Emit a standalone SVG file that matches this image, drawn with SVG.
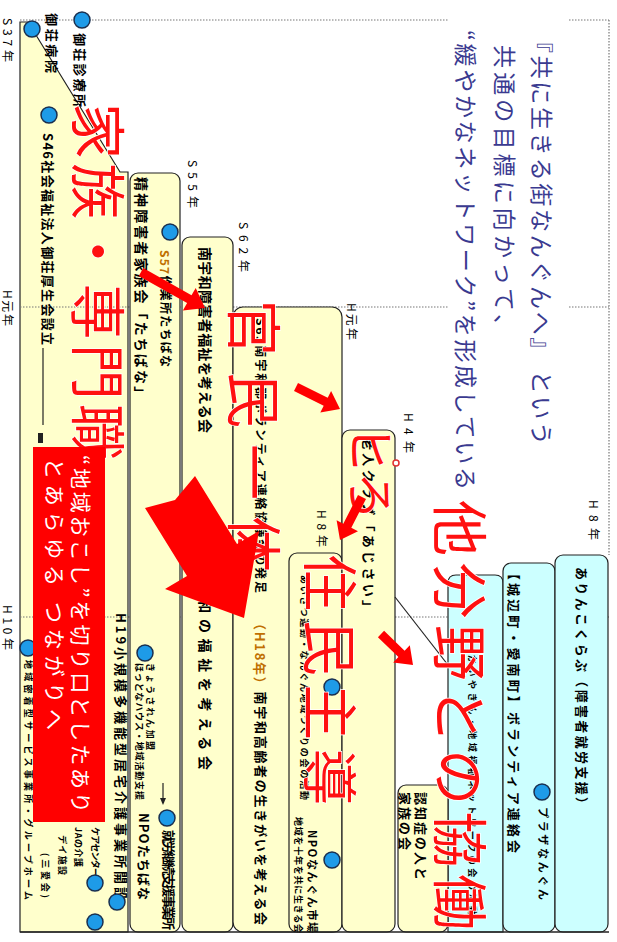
<svg xmlns="http://www.w3.org/2000/svg" width="617" height="942" viewBox="0 0 617 942">
<defs>
<style>
text{font-family:"Noto Sans CJK JP","Noto Sans CJK SC",sans-serif;dominant-baseline:central}
.box{fill:#ffffcc;stroke:#222;stroke-width:1.2}
.cbox{fill:#ccffff;stroke:#222;stroke-width:1.2}
.dot{stroke:#777;stroke-width:1.2;stroke-dasharray:1.5 1.5;fill:none}
.yr{font-size:12px;fill:#000}
.t{font-size:13px;font-weight:bold;fill:#000}
.s{font-size:9px;font-weight:bold;fill:#000}
.big{font-size:56px;fill:#ff1010;stroke:#fff;stroke-width:1.5;paint-order:stroke}
.ttl{font-size:23px;fill:#3a3a90}
.wt{font-size:21px;fill:#fff}
.c{fill:#1e9be8;stroke:#1a3050;stroke-width:1.5}
.ra{fill:#ff0000}
.ln{stroke:#222;stroke-width:1.2;fill:none}
</style>
</defs>
<rect width="617" height="942" fill="#fff"/>
<g id="grid">
<line class="dot" x1="128" y1="20" x2="609" y2="20"/>
<line class="dot" x1="128" y1="307" x2="609" y2="307"/>
<line class="dot" x1="128" y1="617" x2="609" y2="617"/>
<line class="dot" x1="609" y1="20" x2="609" y2="555"/>
<text class="yr" transform="translate(8,18) rotate(90)" textLength="44">S37年</text>
<text class="yr" transform="translate(8,290) rotate(90)" textLength="36">H元年</text>
<text class="yr" transform="translate(8,605) rotate(90)" textLength="45">H10年</text>
</g>
<g id="colA">
<path class="box" d="M20,932 V22 H28 L120,172 H128 V932 Z"/>
<line class="dot" x1="20" y1="20" x2="128" y2="20"/>
<line class="dot" x1="20" y1="307" x2="128" y2="307"/>
<line class="dot" x1="20" y1="617" x2="128" y2="617"/>
<text class="t" transform="translate(52,13) rotate(90)" textLength="60">御荘病院</text>
<text class="t" transform="translate(80,33) rotate(90)" textLength="74">御荘診療所</text>
<text class="t" transform="translate(48,133) rotate(90)" textLength="212">S46社会福祉法人御荘厚生会設立</text>
<line class="ln" x1="43" y1="348" x2="43" y2="425"/>
<rect x="38" y="433" width="5" height="10" fill="#222"/>
<text class="t" transform="translate(121,613) rotate(90)" textLength="287">H19小規模多機能型居宅介護事業所開設</text>
<text class="s" transform="translate(28,660) rotate(90)" textLength="240">地域密着型サービス事業所・グループホーム</text>
<text class="s" transform="translate(95,827) rotate(90)" textLength="50">ケアセンター</text>
<text class="s" transform="translate(78,827) rotate(90)" textLength="40">JAの介護</text>
<text class="s" transform="translate(62,835) rotate(90)" textLength="40">デイ施設</text>
<text class="s" transform="translate(45,853) rotate(90)" textLength="45" fill="#c07000">(三愛会)</text>
</g>
<g id="colB">
<rect class="box" x="130" y="173" width="50" height="759" rx="8"/>
<text class="t" transform="translate(142,177) rotate(90)" textLength="223" style="font-size:14px">精神障害者家族会「たちばな」</text>
<text class="t" transform="translate(166,250) rotate(90)" textLength="117" style="font-size:12px"><tspan fill="#c07000">S57</tspan>作業所たちばな</text>
<text class="s" transform="translate(150,663) rotate(90)" textLength="87">きょうされん加盟</text>
<text class="s" transform="translate(139,663) rotate(90)" textLength="137">ほっとなハウス・地域活動支援</text>
<text class="t" transform="translate(144,813) rotate(90)" textLength="87" fill="#2a56c6">NPOたちばな</text>
<text class="t" transform="translate(169,830) rotate(90)" textLength="100">就労継続支援事業所</text>
<line class="ln" x1="163" y1="783" x2="163" y2="803"/>
<path d="M160,798 L163,805 L166,798 Z" fill="#222"/>
</g>
<g id="colC">
<rect class="box" x="182" y="237" width="51" height="695" rx="8"/>
<text class="t" transform="translate(206,247) rotate(90)" textLength="186" style="font-size:14px">南宇和障害者福祉を考える会</text>
<text class="t" transform="translate(206,560) rotate(90)" textLength="210" style="font-size:14px">南宇和の福祉を考える会</text>
</g>
<g id="colD">
<rect class="box" x="233" y="307" width="109" height="625" rx="10"/>
<text class="t" transform="translate(261,318) rotate(90)" textLength="275" style="font-size:12px">S63南宇和郡ボランティア連絡協議会の発足</text>
<text class="t" transform="translate(261,617) rotate(90)" textLength="308" style="font-size:13px"><tspan fill="#c07000">（H18年）</tspan>南宇和高齢者の生きがいを考える会</text>
</g>
<g id="colF">
<rect class="box" x="289" y="553" width="53" height="379" rx="8"/>
<text class="s" transform="translate(304,575) rotate(90)" textLength="225">あいさつ運動・なんぐん地域づくりの会の活動</text>
<text class="t" transform="translate(313,830) rotate(90)" textLength="103" style="font-size:11px" fill="#c07000">NPOなんぐん市場</text>
<text class="s" transform="translate(298,817) rotate(90)" textLength="116" fill="#2a56c6">地域を十年を共に生きる会</text>
</g>
<g id="colE">
<rect class="box" x="342" y="430" width="53" height="502" rx="8"/>
<text class="t" transform="translate(369,437) rotate(90)" textLength="176">老人クラブ「あじさい」</text>
<text class="yr" transform="translate(409,413) rotate(90)" textLength="40">H4年</text>
</g>
<g id="colG">
<path class="cbox" d="M448,932 V583 Q448,575 456,575 H495 Q503,575 503,583 V932 Z"/>
<line class="ln" x1="395" y1="597" x2="448" y2="665"/>
<text class="s" transform="translate(472,655) rotate(90)" textLength="260">かいやきん・地域福祉ネットワークの会の活動</text>
</g>
<g id="colK">
<rect class="box" x="398" y="785" width="50" height="147" rx="8"/>
<text class="t" transform="translate(421,792) rotate(90)" textLength="88">認知症の人と</text>
<text class="t" transform="translate(405,792) rotate(90)" textLength="58">家族の会</text>
</g>
<g id="colH">
<rect class="cbox" x="503" y="563" width="52" height="369" rx="8"/>
<text class="t" transform="translate(514,567) rotate(90)" textLength="286">【城辺町・愛南町】ボランティア連絡会</text>
<text class="s" transform="translate(544,807) rotate(90)" textLength="93" style="font-size:11px">プラザなんぐん</text>
</g>
<g id="colI">
<rect class="cbox" x="555" y="555" width="53" height="377" rx="8"/>
<text class="t" transform="translate(582,567) rotate(90)" textLength="243">ありんこくらぶ（障害者就労支援）</text>
<text class="yr" transform="translate(594,500) rotate(90)" textLength="40">H8年</text>
</g>
<g id="labels">
<text class="yr" transform="translate(193,160) rotate(90)" textLength="48">S55年</text>
<text class="yr" transform="translate(244,222) rotate(90)" textLength="50">S62年</text>
<text class="yr" transform="translate(352,303) rotate(90)" textLength="37">H元年</text>
<text class="yr" transform="translate(322,510) rotate(90)" textLength="37">H8年</text>
<line x1="20" y1="932" x2="609" y2="932" stroke="#222" stroke-width="1.5"/>
</g>
<g id="dots">
<circle class="c" cx="82" cy="20" r="8"/>
<circle class="c" cx="32" cy="29" r="8"/>
<circle class="c" cx="49" cy="115" r="8"/>
<circle class="c" cx="170" cy="232" r="8"/>
<circle class="c" cx="28" cy="648" r="8"/>
<circle class="c" cx="145" cy="653" r="8"/>
<circle class="c" cx="167" cy="818" r="8"/>
<circle class="c" cx="95" cy="883" r="8"/>
<circle class="c" cx="117" cy="902" r="8"/>
<circle class="c" cx="95" cy="922" r="8"/>
<circle class="c" cx="332" cy="687" r="8"/>
<circle class="c" cx="332" cy="860" r="8"/>
<circle class="c" cx="542" cy="792" r="8"/>
<circle cx="396" cy="463" r="3" fill="#fff" stroke="#e03030" stroke-width="1.5"/>
</g>
<g id="title">
<rect x="448" y="12" width="120" height="488" fill="#fff"/>
<text class="ttl" transform="translate(543,30) rotate(90)" textLength="415">『共に生きる街なんぐんへ』 という</text>
<text class="ttl" transform="translate(506,45) rotate(90)" textLength="292">共通の目標に向かって、</text>
<text class="ttl" transform="translate(467,30) rotate(90)" textLength="460">“緩やかなネットワーク”を形成している</text>
</g>
<g id="bigtext">
<text class="big" transform="translate(101,103) rotate(90)" textLength="357">家族・専門職</text>
<text class="big" transform="translate(257,300) rotate(90)" textLength="272">官民一体</text>
<text class="big" transform="translate(374,425) rotate(90)" textLength="95" style="font-size:48px">ヒろ</text>
<text class="big" transform="translate(333,555) rotate(90)" textLength="250">住民主導</text>
<text class="big" transform="translate(463,500) rotate(90)" textLength="430">他分野との協働</text>
</g>
<g id="arrows">
<path class="ra" d="M138.8,275.9 L187.1,303.1 L182.9,310.5 L205,308 L195.7,287.9 L191.5,295.3 L143.2,268.1 Z"/>
<path class="ra" d="M294,391 L323.7,405.8 L320.3,412.5 L340,409 L331.1,391.1 L327.7,397.8 L298,383 Z"/>
<path class="ra" d="M358,495 L343.3,523.8 L336.6,520.3 L340,540 L358,531.3 L351.3,527.8 L366,499 Z"/>
<path class="ra" d="M377.9,637.2 L398.4,657.1 L393.2,662.5 L413,665 L409.8,645.3 L404.6,650.7 L384.1,630.8 Z"/>
<path class="ra" d="M195,476 L237,544 L259,531 L244,618 L165,589 L187,576 L145,508 L175,500 Z"/>
</g>
<g id="redbox">
<rect x="33" y="447" width="72" height="375" fill="#ff0000"/>
<text class="wt" transform="translate(82,455) rotate(90)" textLength="358">“地域おこし”を切り口としたあり</text>
<text class="wt" transform="translate(56,458) rotate(90)" textLength="272">とあらゆる つながりへ</text>
</g>
</svg>
